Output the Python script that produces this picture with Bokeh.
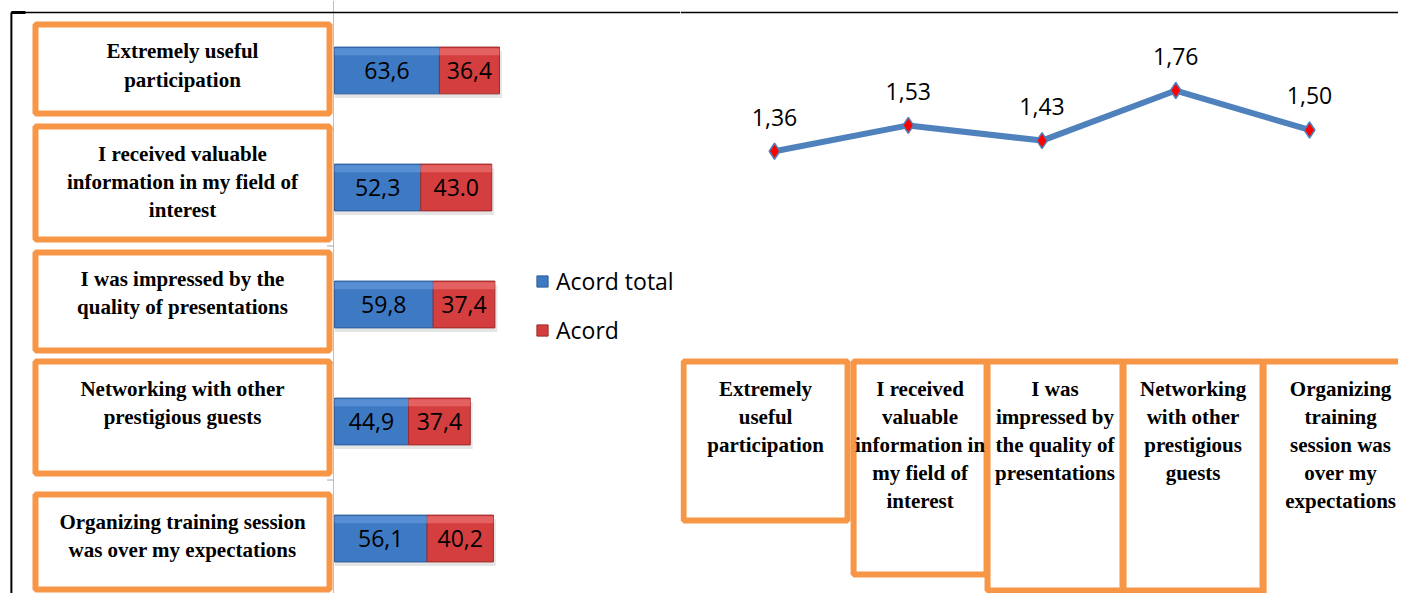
from bokeh.plotting import figure
from bokeh.layouts import row
from bokeh.models import Range1d, Span, ColumnDataSource
from bokeh.core.properties import value
from bokeh.embed import file_html
from bokeh.resources import INLINE

# ---------------- data ----------------
categories = [
    "Extremely useful participation",
    "I received valuable information in my field of interest",
    "I was impressed by the quality of presentations",
    "Networking with other prestigious guests",
    "Organizing training session was over my expectations",
]
series_names = ["Acord total", "Acord"]
acord_total = [63.6, 52.3, 59.8, 44.9, 56.1]
acord = [36.4, 43.0, 37.4, 37.4, 40.2]
acord_total_labels = ["63,6", "52,3", "59,8", "44,9", "56,1"]
acord_labels = ["36,4", "43.0", "37,4", "37,4", "40,2"]
left_tick_labels = [
    "Extremely useful\nparticipation",
    "I received valuable\ninformation in my field of\ninterest",
    "I was impressed by the\nquality of presentations",
    "Networking with other\nprestigious guests",
    "Organizing training session\nwas over my expectations",
]
mean_scores = [1.36, 1.53, 1.43, 1.76, 1.50]
right_tick_labels = [
    "Extremely\nuseful\nparticipation",
    "I received\nvaluable\ninformation in\nmy field of\ninterest",
    "I was\nimpressed by\nthe quality of\npresentations",
    "Networking\nwith other\nprestigious\nguests",
    "Organizing\ntraining\nsession was\nover my\nexpectations",
]

# ---------------- styles / layout ----------------
BLUE, BLUE_D, BLUE_L = "#3E79C4", "#2F5D98", "#6A9FE0"
RED, RED_D, RED_L = "#D43E3E", "#9C2B2B", "#EE7A7A"
LINE_BLUE = "#4F81BD"
ORANGE = "#F79646"
SERIF = value("Liberation Serif")
SANS = value("Open Sans")
BAR_H = 0.40

LBOX_CX, LBOX_W = -92.1, 178.2
LBOX_DY = [-0.013, -0.038, -0.026, -0.034, 0.030]
LBOX_H = [0.76, 0.966, 0.838, 0.957, 0.812]

RBOX_DX = [-0.067, 0.088, 0.097, 0.129, 0.232]
RBOX_W = [1.226, 0.994, 1.009, 1.039, 1.151]
RBOX_TOP = -0.026
RBOX_BOTTOM = [-1.073, -1.429, -1.535, -1.535, -1.68]

# ---------------- left chart ----------------
idx = list(range(len(categories)))
ends = [t + a for t, a in zip(acord_total, acord)]
src = ColumnDataSource(dict(
    idx=idx,
    total=acord_total,
    acord=acord,
    end=ends,
    tmid=[t / 2 for t in acord_total],
    amid=[t + a / 2 for t, a in zip(acord_total, acord)],
    tl=acord_total_labels,
    al=acord_labels,
    shadow_y=[i + 0.035 for i in idx],
    shadow_end=[e + 1.5 for e in ends],
    hi_y=[i - BAR_H / 2 + 0.04 for i in idx],
))

left = figure(width=680, height=593, x_range=Range1d(-202.4, 209.7),
              y_range=Range1d(4.470, -0.598), output_backend="svg",
              toolbar_location=None, min_border=0, x_axis_location=None,
              y_axis_location=None, outline_line_color=None)
left.grid.visible = False

# category axis line and boundary ticks
left.add_layout(Span(location=-0.6, dimension="height", line_color="#BFBFBF",
                     line_width=1, level="underlay"))
bounds = [i + 0.5 for i in idx[:-1]]
left.segment(x0=-4.5, y0=bounds, x1=-0.6, y1=bounds, line_color="#A6A6A6", line_width=1)

# soft shadow under the bars
left.hbar(y="shadow_y", left=0, right="shadow_end", height=BAR_H, source=src,
          fill_color="#000000", fill_alpha=0.10, line_color=None)

left.hbar_stack(["total", "acord"], y="idx", height=BAR_H, source=src,
                fill_color=[BLUE, RED], line_color=[BLUE_D, RED_D], line_width=1,
                legend_label=series_names)

# bevel highlight on the top edge of each segment
left.hbar(y="hi_y", left=0, right="total", height=0.06, source=src,
          fill_color=BLUE_L, fill_alpha=0.6, line_color=None)
left.hbar(y="hi_y", left="total", right="end", height=0.06, source=src,
          fill_color=RED_L, fill_alpha=0.6, line_color=None)

left.text(x="tmid", y="idx", text="tl", source=src, text_align="center",
          text_baseline="middle", text_font=SANS, text_font_size="23px",
          text_color="black")
left.text(x="amid", y="idx", text="al", source=src, text_align="center",
          text_baseline="middle", text_font=SANS, text_font_size="23px",
          text_color="black")

for i, lab in enumerate(left_tick_labels):
    cy = i + LBOX_DY[i]
    h = LBOX_H[i]
    left.rect(x=[LBOX_CX], y=[cy], width=LBOX_W, height=h, fill_color="white",
              line_color=ORANGE, line_width=6)
    left.text(x=[LBOX_CX], y=[cy - h / 2], text=[lab], text_align="center",
              text_baseline="top", y_offset=15, text_font=SERIF,
              text_font_style="bold", text_font_size="21px",
              text_line_height=1.17, text_color="black")

lg = left.legend[0]
lg.location = (535, 247)
lg.border_line_color = None
lg.background_fill_alpha = 0
lg.padding = 0
lg.margin = 0
lg.spacing = 17
lg.label_height = 24
lg.glyph_height = 14
lg.glyph_width = 14
lg.label_standoff = 7
lg.label_text_font = "Open Sans"
lg.label_text_font_size = "23px"
lg.label_text_color = "black"

# page frame (top and left rules)
left.segment(x0=[-195.8], y0=[-0.495], x1=[209.7], y1=[-0.495], line_color="black", line_width=1.5)
left.segment(x0=[-195.8], y0=[-0.495], x1=[-195.8], y1=[4.47], line_color="black", line_width=2)
left.segment(x0=[-195.8], y0=[-0.495], x1=[-187.3], y1=[-0.495], line_color="black", line_width=3)

# ---------------- right chart ----------------
rsrc = ColumnDataSource(dict(
    idx=idx,
    score=mean_scores,
    lab=[f"{v:.2f}".replace(".", ",") for v in mean_scores],
))

right = figure(width=718, height=593, x_range=Range1d(-0.703, 4.665),
               y_range=Range1d(-1.554, 2.353), output_backend="svg",
               toolbar_location=None, min_border=0, x_axis_location=None,
               y_axis_location=None, outline_line_color=None)
right.grid.visible = False

right.line(x="idx", y="score", source=rsrc, line_width=6, line_color=LINE_BLUE)
right.scatter(x="idx", y="score", source=rsrc, marker="diamond", size=16,
              fill_color="red", line_color=LINE_BLUE, line_width=1.5)
right.text(x="idx", y="score", text="lab", source=rsrc, y_offset=-34,
           text_align="center", text_baseline="middle", text_font=SANS,
           text_font_size="23px", text_color="black")

for i, lab in enumerate(right_tick_labels):
    cx = i + RBOX_DX[i]
    bot = RBOX_BOTTOM[i]
    right.rect(x=[cx], y=[(RBOX_TOP + bot) / 2], width=RBOX_W[i],
               height=RBOX_TOP - bot, fill_color="white", line_color=ORANGE,
               line_width=6)
    right.text(x=[cx], y=[RBOX_TOP], text=[lab], text_align="center",
               text_baseline="top", y_offset=15, text_font=SERIF,
               text_font_style="bold", text_font_size="21px",
               text_line_height=1.17, text_color="black")

right.add_layout(Span(location=2.274, dimension="width", line_color="black", line_width=1.5))

layout = row(left, right)
open("out.html", "w").write(file_html(layout, INLINE))
